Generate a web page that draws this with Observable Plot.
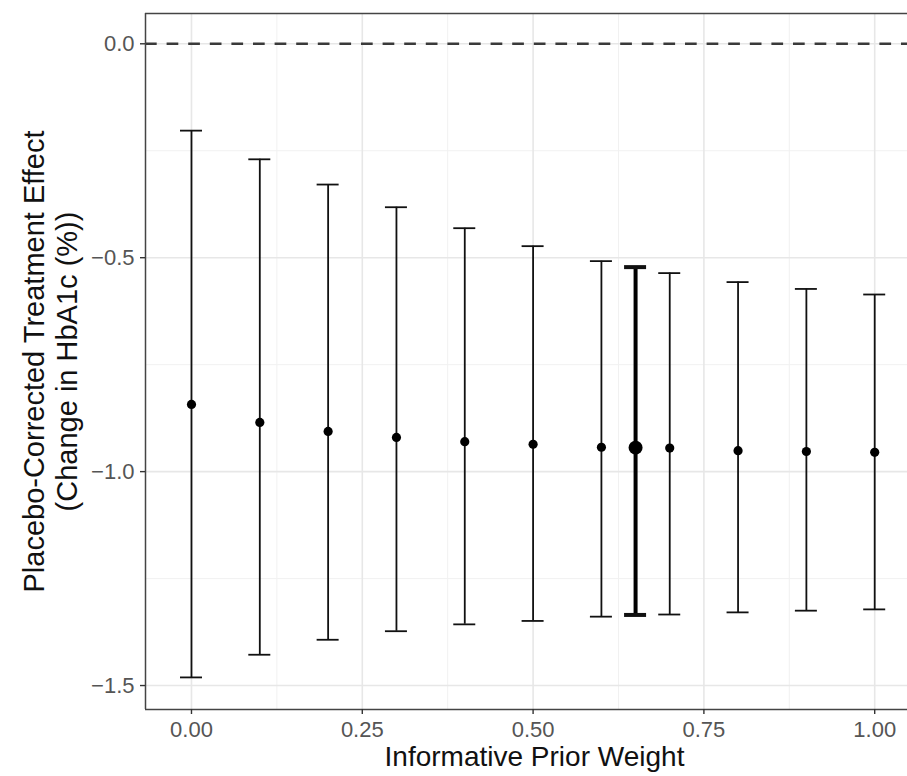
<!DOCTYPE html>
<html><head><meta charset="utf-8">
<script src="https://cdn.jsdelivr.net/npm/d3@7"></script>
<script src="https://cdn.jsdelivr.net/npm/@observablehq/plot@0.6"></script>
<style>body{margin:0;background:#fff;overflow:hidden;}</style>
</head><body><div id="chart"></div>
<script>
const weights   = [0, 0.1, 0.2, 0.3, 0.4, 0.5, 0.6, 0.65, 0.7, 0.8, 0.9, 1.0];
const estimates = [-0.843, -0.885, -0.906, -0.920, -0.930, -0.936, -0.943, -0.944, -0.945, -0.951, -0.953, -0.955];
const upperCI   = [-0.203, -0.270, -0.329, -0.382, -0.431, -0.473, -0.508, -0.522, -0.536, -0.557, -0.573, -0.586];
const lowerCI   = [-1.481, -1.428, -1.393, -1.373, -1.357, -1.349, -1.339, -1.335, -1.334, -1.329, -1.325, -1.322];
const highlightWeight = 0.65;
const xTicks = [0, 0.25, 0.5, 0.75, 1];
const xMinor = [0.125, 0.375, 0.625, 0.875];
const yTicks = [0, -0.5, -1, -1.5];
const yMinor = [-0.25, -0.75, -1.25];
const referenceLine = [0];
const xLabel = "Informative Prior Weight";
const yLabel = "Placebo-Corrected Treatment Effect\n(Change in HbA1c (%))";

const rows = weights.map((w, i) => ({w, est: estimates[i], lo: lowerCI[i], hi: upperCI[i], hl: w === highlightWeight}));
const normal = rows.filter(d => !d.hl);
const bold = rows.filter(d => d.hl);
const capHalf = 0.0161;
const xDom = [-0.0673, 1.048];
const yDom = [-1.556, 0.0708];
const font = "'Liberation Sans', Arial, Helvetica, sans-serif";

const caps = (data, key, sw) => Plot.ruleY(data, {y: key, x1: d => d.w - capHalf, x2: d => d.w + capHalf, stroke: "#111", strokeWidth: sw});

const chart = Plot.plot({
  width: 907, height: 776,
  marginLeft: 145, marginRight: 0, marginTop: 13, marginBottom: 67,
  x: {domain: xDom},
  y: {domain: yDom},
  style: {fontFamily: font, background: "white", color: "black"},
  marks: [
    Plot.ruleX(xMinor, {stroke: "#f1f1f1", strokeWidth: 1}),
    Plot.ruleY(yMinor, {stroke: "#f1f1f1", strokeWidth: 1}),
    Plot.ruleX(xTicks, {stroke: "#e7e7e7", strokeWidth: 1.6}),
    Plot.ruleY(yTicks, {stroke: "#e7e7e7", strokeWidth: 1.6}),
    Plot.ruleY(referenceLine, {stroke: "#3a3a3a", strokeWidth: 2.6, strokeDasharray: "11.7,9.9"}),
    Plot.ruleX(normal, {x: "w", y1: "lo", y2: "hi", stroke: "#111", strokeWidth: 1.8}),
    caps(normal, "hi", 1.8),
    caps(normal, "lo", 1.8),
    Plot.dot(normal, {x: "w", y: "est", r: 4.6, fill: "#000", stroke: "none"}),
    Plot.ruleX(bold, {x: "w", y1: "lo", y2: "hi", stroke: "#000", strokeWidth: 4}),
    caps(bold, "hi", 4),
    caps(bold, "lo", 4),
    Plot.dot(bold, {x: "w", y: "est", r: 7, fill: "#000", stroke: "none"}),
    Plot.ruleX([xDom[0]], {stroke: "#444", strokeWidth: 1.5}),
    Plot.ruleY([yDom[1]], {stroke: "#444", strokeWidth: 1.5}),
    Plot.ruleY([yDom[0]], {stroke: "#444", strokeWidth: 1.5}),
    Plot.axisX({ticks: xTicks, tickFormat: d3.format(".2f"), tickSize: 5, tickPadding: 7, fontSize: 22, stroke: "#333", fill: "#555", strokeWidth: 1.4, label: null}),
    Plot.axisY({ticks: yTicks, tickFormat: d3.format(".1f"), tickSize: 5, tickPadding: 6, fontSize: 22, stroke: "#333", fill: "#555", strokeWidth: 1.4, label: null}),
    Plot.text([xLabel], {text: d => d, frameAnchor: "bottom", dy: 48, dx: 8, lineAnchor: "middle", fontSize: 28, fill: "#111"}),
    Plot.text([yLabel], {text: d => d, frameAnchor: "left", dx: -96, rotate: -90, lineAnchor: "middle", textAnchor: "middle", fontSize: 29, lineHeight: 1.14, fill: "#111"})
  ]
});
document.getElementById("chart").appendChild(chart);
</script>
</body></html>
